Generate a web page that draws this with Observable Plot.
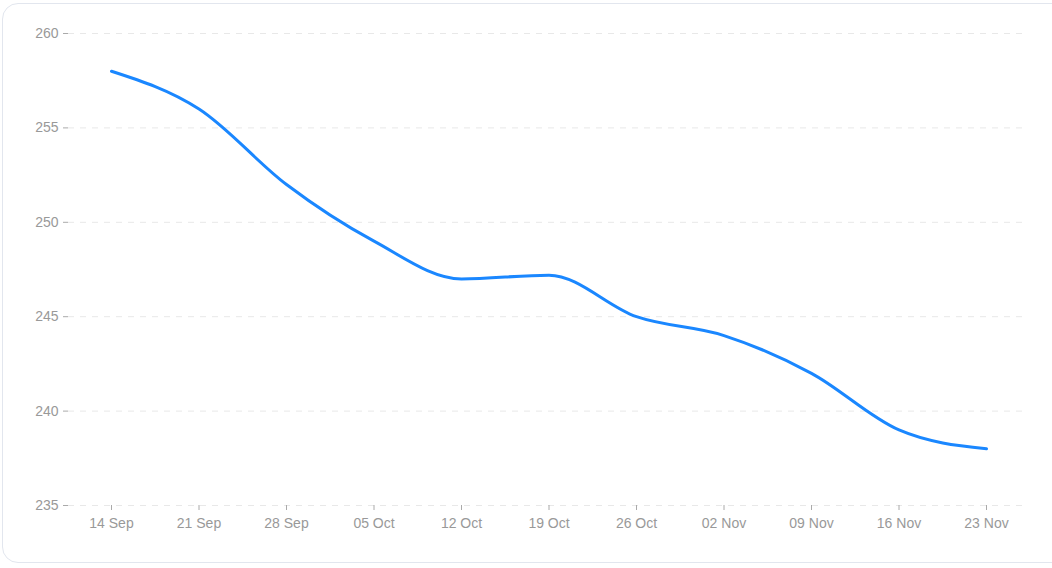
<!DOCTYPE html>
<html>
<head>
<meta charset="utf-8">
<script src="https://cdn.jsdelivr.net/npm/d3@7"></script>
<script src="https://cdn.jsdelivr.net/npm/@observablehq/plot@0.6"></script>
<style>
  body { margin: 0; background: #fff; font-family: "Liberation Sans", Arial, sans-serif; }
  #card {
    position: absolute; left: 2px; top: 3px; width: 1070px; height: 560px;
    border: 1px solid #e2e6ee; border-radius: 16px; box-sizing: border-box;
  }
  #chart { position: absolute; left: 0; top: 0; }
</style>
</head>
<body>
<div id="card"></div>
<div id="chart"></div>
<script>
const weeks = ["14 Sep", "21 Sep", "28 Sep", "05 Oct", "12 Oct", "19 Oct", "26 Oct", "02 Nov", "09 Nov", "16 Nov", "23 Nov"];
const values = [258, 256, 252, 249, 247, 247.2, 245, 244, 242, 239, 238];
const yTicks = [235, 240, 245, 250, 255, 260];

const data = weeks.map((w, i) => ({week: w, value: values[i]}));

const chart = Plot.plot({
  width: 1052,
  height: 568,
  marginLeft: 68,
  marginRight: 27,
  marginTop: 33,
  marginBottom: 63,
  insetLeft: 43,
  insetRight: 39,
  style: {fontFamily: "Liberation Sans, Arial, sans-serif", fontSize: "14px", color: "#9a9a9a", background: "transparent"},
  x: {type: "point", domain: weeks, padding: 0, round: false, label: null},
  y: {domain: [235, 260], ticks: yTicks, label: null},
  marks: [
    Plot.gridY(yTicks, {stroke: "#e8e8e8", strokeOpacity: 1, strokeDasharray: "6,6"}),
    Plot.axisY(yTicks, {tickSize: 5, tickPadding: 5, stroke: "#aaaaaa", fill: "#999999", label: null}),
    Plot.axisX(weeks, {tickSize: 5, tickPadding: 8, stroke: "#aaaaaa", fill: "#999999", label: null}),
    Plot.line(data, {x: "week", y: "value", stroke: "#1a87ff", strokeWidth: 3, curve: "monotone-x"})
  ]
});

d3.select("#chart").append(() => chart);
</script>
</body>
</html>
